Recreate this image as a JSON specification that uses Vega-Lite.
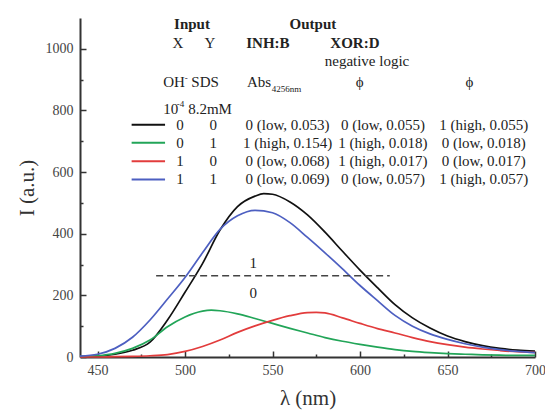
{
  "$schema": "https://vega.github.io/schema/vega-lite/v6.json",
  "width": 455,
  "height": 339,
  "autosize": "none",
  "padding": {"left": 80, "top": 18, "right": 10, "bottom": 55},
  "background": "white",
  "config": {
    "view": {"stroke": null},
    "font": "Liberation Serif",
    "text": {"fontSize": 15, "color": "#222", "baseline": "middle", "font": "Liberation Serif"}
  },
  "resolve": {"axis": {"x": "independent", "y": "independent"}},
  "datasets": {
    "curves": [
      {"s":"00","w":440,"v":1},{"s":"00","w":450,"v":3},{"s":"00","w":460,"v":9},{"s":"00","w":470,"v":22},{"s":"00","w":480,"v":48},{"s":"00","w":490,"v":120},{"s":"00","w":500,"v":210},{"s":"00","w":510,"v":303},{"s":"00","w":520,"v":412},{"s":"00","w":530,"v":488},{"s":"00","w":540,"v":522},{"s":"00","w":545,"v":530},{"s":"00","w":550,"v":528},{"s":"00","w":560,"v":503},{"s":"00","w":570,"v":461},{"s":"00","w":580,"v":405},{"s":"00","w":590,"v":343},{"s":"00","w":600,"v":282},{"s":"00","w":610,"v":225},{"s":"00","w":620,"v":170},{"s":"00","w":630,"v":127},{"s":"00","w":640,"v":94},{"s":"00","w":650,"v":68},{"s":"00","w":660,"v":50},{"s":"00","w":670,"v":37},{"s":"00","w":680,"v":28},{"s":"00","w":690,"v":22},{"s":"00","w":700,"v":19},
      {"s":"01","w":440,"v":1},{"s":"01","w":450,"v":4},{"s":"01","w":460,"v":12},{"s":"01","w":470,"v":28},{"s":"01","w":480,"v":55},{"s":"01","w":490,"v":98},{"s":"01","w":500,"v":130},{"s":"01","w":510,"v":149},{"s":"01","w":515,"v":152},{"s":"01","w":520,"v":150},{"s":"01","w":530,"v":140},{"s":"01","w":540,"v":125},{"s":"01","w":550,"v":109},{"s":"01","w":560,"v":93},{"s":"01","w":570,"v":78},{"s":"01","w":580,"v":63},{"s":"01","w":590,"v":51},{"s":"01","w":600,"v":41},{"s":"01","w":610,"v":32},{"s":"01","w":620,"v":24},{"s":"01","w":630,"v":18},{"s":"01","w":640,"v":14},{"s":"01","w":650,"v":11},{"s":"01","w":660,"v":9},{"s":"01","w":670,"v":7},{"s":"01","w":680,"v":6},{"s":"01","w":690,"v":5},{"s":"01","w":700,"v":5},
      {"s":"10","w":440,"v":0},{"s":"10","w":450,"v":0},{"s":"10","w":460,"v":1},{"s":"10","w":470,"v":2},{"s":"10","w":480,"v":4},{"s":"10","w":490,"v":8},{"s":"10","w":500,"v":18},{"s":"10","w":510,"v":34},{"s":"10","w":520,"v":55},{"s":"10","w":530,"v":80},{"s":"10","w":540,"v":101},{"s":"10","w":550,"v":119},{"s":"10","w":560,"v":134},{"s":"10","w":570,"v":144},{"s":"10","w":575,"v":145},{"s":"10","w":580,"v":143},{"s":"10","w":590,"v":127},{"s":"10","w":600,"v":109},{"s":"10","w":610,"v":92},{"s":"10","w":620,"v":78},{"s":"10","w":630,"v":63},{"s":"10","w":640,"v":50},{"s":"10","w":650,"v":40},{"s":"10","w":660,"v":32},{"s":"10","w":670,"v":26},{"s":"10","w":680,"v":21},{"s":"10","w":690,"v":17},{"s":"10","w":700,"v":15},
      {"s":"11","w":440,"v":3},{"s":"11","w":450,"v":9},{"s":"11","w":460,"v":28},{"s":"11","w":470,"v":64},{"s":"11","w":480,"v":120},{"s":"11","w":490,"v":188},{"s":"11","w":500,"v":258},{"s":"11","w":510,"v":338},{"s":"11","w":520,"v":414},{"s":"11","w":530,"v":458},{"s":"11","w":540,"v":476},{"s":"11","w":550,"v":468},{"s":"11","w":560,"v":436},{"s":"11","w":570,"v":388},{"s":"11","w":580,"v":338},{"s":"11","w":590,"v":286},{"s":"11","w":600,"v":232},{"s":"11","w":610,"v":183},{"s":"11","w":620,"v":135},{"s":"11","w":630,"v":100},{"s":"11","w":640,"v":75},{"s":"11","w":650,"v":57},{"s":"11","w":660,"v":43},{"s":"11","w":670,"v":32},{"s":"11","w":680,"v":24},{"s":"11","w":690,"v":18},{"s":"11","w":700,"v":14}
    ],
    "samples": [
      {"s":"00","w1":469.5,"w2":488.6,"v":754},
      {"s":"01","w1":469.5,"w2":488.6,"v":695},
      {"s":"10","w1":469.5,"w2":488.6,"v":635},
      {"s":"11","w1":469.5,"w2":488.6,"v":576}
    ],
    "dashed": [{"w1":483.5,"w2":617,"v":264}],
    "plain": [
      {"t":"X","w":496,"v":1020},{"t":"Y","w":514.3,"v":1020},
      {"t":"negative logic","w":604,"v":959},
      {"t":"SDS","w":511.5,"v":891},{"t":"ϕ","w":599.8,"v":891},{"t":"ϕ","w":662.6,"v":891},
      {"t":"0","w":497.2,"v":754},{"t":"0","w":516.2,"v":754},{"t":"0 (low, 0.053)","w":558.6,"v":754},{"t":"0 (low, 0.055)","w":613.1,"v":754},{"t":"1 (high, 0.055)","w":670.7,"v":754},
      {"t":"0","w":497.2,"v":695},{"t":"1","w":516.2,"v":695},{"t":"1 (high, 0.154)","w":558.6,"v":695},{"t":"1 (high, 0.018)","w":613.1,"v":695},{"t":"0 (low, 0.018)","w":670.7,"v":695},
      {"t":"1","w":497.2,"v":635},{"t":"0","w":516.2,"v":635},{"t":"0 (low, 0.068)","w":558.6,"v":635},{"t":"1 (high, 0.017)","w":613.1,"v":635},{"t":"0 (low, 0.017)","w":670.7,"v":635},
      {"t":"1","w":497.2,"v":576},{"t":"1","w":516.2,"v":576},{"t":"0 (low, 0.069)","w":558.6,"v":576},{"t":"0 (low, 0.057)","w":613.1,"v":576},{"t":"1 (high, 0.057)","w":670.7,"v":576},
      {"t":"1","w":539,"v":306},{"t":"0","w":539,"v":208}
    ],
    "bold": [
      {"t":"Input","w":504,"v":1079},{"t":"Output","w":573.1,"v":1079},
      {"t":"INH:B","w":547.4,"v":1020},{"t":"XOR:D","w":597.1,"v":1020}
    ],
    "leftText": [
      {"t":"Abs","w":535.4,"v":891},
      {"t":"OH","w":487.5,"v":891},
      {"t":"10","w":487.5,"v":806},
      {"t":"8.2mM","w":501.8,"v":806}
    ],
    "small": [
      {"t":"4256nm","w":549.5,"v":868},
      {"t":"-","w":499.8,"v":905},
      {"t":"-4","w":495.3,"v":820}
    ]
  },
  "layer": [
    {
      "data": {"name": "curves"},
      "mark": {"type": "line", "strokeWidth": 1.7, "interpolate": "monotone"},
      "encoding": {
        "x": {"field": "w", "type": "quantitative",
          "scale": {"domain": [440, 700], "nice": false, "zero": false},
          "axis": {
            "orient": "bottom",
            "values": [450,500,550,600,650,700],
            "title": "λ (nm)", "titleFont": "Liberation Serif", "titleFontSize": 21, "titleFontWeight": "normal", "titleColor": "#333", "titlePadding": 10,
            "labelFont": "Liberation Serif", "labelFontSize": 14, "labelColor": "#444", "labelPadding": 6,
            "ticks": false,
            "domainColor": "#333", "domainWidth": 2, "grid": false, "labelFlush": false, "labelOverlap": false
          }
        },
        "y": {"field": "v", "type": "quantitative",
          "scale": {"domain": [0, 1100], "nice": false},
          "axis": {
            "orient": "left",
            "values": [0,200,400,600,800,1000],
            "format": "d",
            "title": "I (a.u.)", "titleFont": "Liberation Serif", "titleFontSize": 21, "titleFontWeight": "normal", "titleColor": "#333", "titlePadding": 8,
            "labelFont": "Liberation Serif", "labelFontSize": 14, "labelColor": "#444", "labelPadding": 7,
            "ticks": false,
            "domainColor": "#333", "domainWidth": 2, "grid": false, "labelOverlap": false
          }
        },
        "color": {"field": "s", "type": "nominal",
          "scale": {"domain": ["00","01","10","11"], "range": ["#111111","#22a558","#e23c3c","#4d5fc1"]},
          "legend": null}
      }
    },
    {
      "data": {"name": "samples"},
      "mark": {"type": "rule", "strokeWidth": 2},
      "encoding": {
        "x": {"field": "w1", "type": "quantitative",
          "axis": {"orient": "bottom", "offset": -6, "values": [450,500,550,600,650,700], "labels": false, "domain": false, "title": null, "tickSize": 6, "tickColor": "#333", "tickWidth": 1.5, "grid": false}},
        "x2": {"field": "w2"},
        "y": {"field": "v", "type": "quantitative",
          "axis": {"orient": "left", "offset": -6, "values": [0,200,400,600,800,1000], "labels": false, "domain": false, "title": null, "tickSize": 6, "tickColor": "#333", "tickWidth": 1.5, "grid": false}},
        "color": {"field": "s", "type": "nominal", "legend": null}
      }
    },
    {
      "data": {"name": "dashed"},
      "mark": {"type": "rule", "strokeWidth": 1.5, "strokeDash": [7, 4], "color": "#444"},
      "encoding": {
        "x": {"field": "w1", "type": "quantitative",
          "axis": {"orient": "bottom", "offset": -3, "values": [475,525,575,625,675], "labels": false, "domain": false, "title": null, "tickSize": 3, "tickColor": "#333", "tickWidth": 1.5, "grid": false}},
        "x2": {"field": "w2"},
        "y": {"field": "v", "type": "quantitative",
          "axis": {"orient": "left", "offset": -3, "values": [100,300,500,700,900], "labels": false, "domain": false, "title": null, "tickSize": 3, "tickColor": "#333", "tickWidth": 1.5, "grid": false}}
      }
    },
    {
      "data": {"name": "plain"},
      "mark": {"type": "text", "align": "center", "font": "Liberation Serif"},
      "encoding": {
        "x": {"field": "w", "type": "quantitative", "axis": null},
        "y": {"field": "v", "type": "quantitative", "axis": null},
        "text": {"field": "t"}
      }
    },
    {
      "data": {"name": "bold"},
      "mark": {"type": "text", "align": "center", "fontWeight": "bold", "font": "Liberation Serif"},
      "encoding": {
        "x": {"field": "w", "type": "quantitative", "axis": null},
        "y": {"field": "v", "type": "quantitative", "axis": null},
        "text": {"field": "t"}
      }
    },
    {
      "data": {"name": "leftText"},
      "mark": {"type": "text", "align": "left", "font": "Liberation Serif"},
      "encoding": {
        "x": {"field": "w", "type": "quantitative", "axis": null},
        "y": {"field": "v", "type": "quantitative", "axis": null},
        "text": {"field": "t"}
      }
    },
    {
      "data": {"name": "small"},
      "mark": {"type": "text", "align": "left", "fontSize": 9, "font": "Liberation Serif"},
      "encoding": {
        "x": {"field": "w", "type": "quantitative", "axis": null},
        "y": {"field": "v", "type": "quantitative", "axis": null},
        "text": {"field": "t"}
      }
    }
  ]
}
